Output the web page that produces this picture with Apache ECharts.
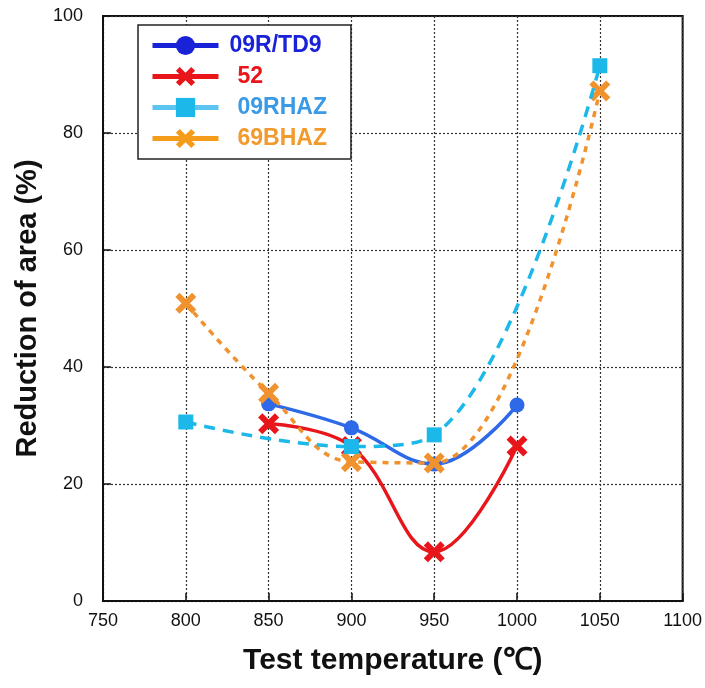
<!DOCTYPE html>
<html><head><meta charset="utf-8">
<script src="https://cdn.jsdelivr.net/npm/echarts@6/dist/echarts.min.js"></script>
<style>html,body{margin:0;padding:0;background:#fff}#c{width:705px;height:688px}</style>
</head><body><div id="c"></div>
<script>
const seriesNames = ['09R/TD9', '52', '09RHAZ', '69BHAZ'];
const td9Temp = [850, 900, 950, 1000];
const td9Val = [33.7, 29.6, 23.4, 33.5];
const s52Temp = [850, 900, 950, 1000];
const s52Val = [30.3, 26.4, 8.4, 26.5];
const hazTemp = [800, 900, 950, 1050];
const hazVal = [30.6, 26.4, 28.4, 91.5];
const b69Temp = [800, 850, 900, 950, 1050];
const b69Val = [50.9, 35.5, 23.8, 23.6, 87.2];
const xTicks = [750, 800, 850, 900, 950, 1000, 1050, 1100];
const yTicks = [0, 20, 40, 60, 80, 100];

const xPath = 'path://M0,4 L4,0 L10,6 L16,0 L20,4 L14,10 L20,16 L16,20 L10,14 L4,20 L0,16 L6,10 Z';
const zip = (a, b) => a.map((v, i) => [v, b[i]]);
const font = 'Liberation Sans, Arial, sans-serif';
const narrow = 'Liberation Sans Narrow, Arial Narrow, Liberation Sans, sans-serif';

const chart = echarts.init(document.getElementById('c'), null, {renderer: 'canvas'});
chart.setOption({
  animation: false,
  backgroundColor: '#fff',
  grid: {left: 103, right: 18, top: 16, bottom: 87, show: true, borderColor: '#111', borderWidth: 2, backgroundColor: 'transparent'},
  xAxis: {
    type: 'value', min: 750, max: 1100, interval: 50,
    name: 'Test temperature (℃)', nameLocation: 'middle', nameGap: 45,
    nameTextStyle: {fontFamily: font, fontSize: 30, fontWeight: 'bold', color: '#111'},
    axisLine: {show: true, lineStyle: {color: '#111', width: 2}},
    axisTick: {show: true, inside: true, length: 8, lineStyle: {color: '#111', width: 1.5}},
    axisLabel: {fontFamily: narrow, fontSize: 18, color: '#111', margin: 11,
      formatter: v => xTicks.includes(v) ? String(v) : ''},
    splitLine: {show: true, lineStyle: {color: '#333', type: [2, 2], width: 1.2}}
  },
  yAxis: {
    type: 'value', min: 0, max: 100, interval: 20,
    name: 'Reduction of area (%)', nameLocation: 'middle', nameGap: 58, nameRotate: 90,
    nameTextStyle: {fontFamily: font, fontSize: 29, fontWeight: 'bold', color: '#111'},
    axisLine: {show: true, lineStyle: {color: '#111', width: 2}},
    axisTick: {show: true, inside: true, length: 8, lineStyle: {color: '#111', width: 1.5}},
    axisLabel: {fontFamily: narrow, fontSize: 18, color: '#111', margin: 20,
      formatter: v => yTicks.includes(v) ? String(v) : ''},
    splitLine: {show: true, lineStyle: {color: '#333', type: [2, 2], width: 1.2}}
  },
  legend: {
    left: 138, top: 25, orient: 'vertical', itemGap: 8,
    padding: [9, 24, 9, 12],
    borderColor: '#222', borderWidth: 1.5, backgroundColor: '#fff',
    itemWidth: 66, itemHeight: 24,
    textStyle: {fontFamily: font, fontSize: 23, fontWeight: 'bold', padding: [0, 0, 0, 6]},
    data: [
      {name: seriesNames[0], textStyle: {color: '#1a22d8'}, lineStyle: {type: 'solid', color: '#1a22d8', width: 5}, itemStyle: {color: '#1a22d8'}},
      {name: seriesNames[1], textStyle: {color: '#e8161a', padding: [0, 0, 0, 14]}, lineStyle: {type: 'solid', width: 5}},
      {name: seriesNames[2], textStyle: {color: '#3a9ae6', padding: [0, 0, 0, 14]}, lineStyle: {type: 'solid', color: '#5cc4f0', width: 5}},
      {name: seriesNames[3], textStyle: {color: '#f29a2e', padding: [0, 0, 0, 14]}, lineStyle: {type: 'solid', color: '#f59c1a', width: 5}, itemStyle: {color: '#f59c1a'}}
    ]
  },
  series: [
    {name: seriesNames[0], type: 'line', smooth: 0.4, data: zip(td9Temp, td9Val),
     symbol: 'circle', symbolSize: 15, lineStyle: {color: '#2e6ae8', width: 3.5},
     itemStyle: {color: '#2e6ae8'}, z: 2},
    {name: seriesNames[1], type: 'line', smooth: 0.4, data: zip(s52Temp, s52Val),
     symbol: xPath, symbolSize: 21, lineStyle: {color: '#e8161a', width: 3.5},
     itemStyle: {color: '#e8161a'}, z: 3},
    {name: seriesNames[2], type: 'line', smooth: 0.4, data: zip(hazTemp, hazVal),
     symbol: 'rect', symbolSize: 15, lineStyle: {color: '#1cb8ea', width: 3.5, type: [11, 8]},
     itemStyle: {color: '#1cb8ea'}, z: 5},
    {name: seriesNames[3], type: 'line', smooth: 0.4, data: zip(b69Temp, b69Val),
     symbol: xPath, symbolSize: 21, lineStyle: {color: '#f0922e', width: 3.5, type: [6, 6]},
     itemStyle: {color: '#f0922e'}, z: 4}
  ]
});
</script></body></html>
